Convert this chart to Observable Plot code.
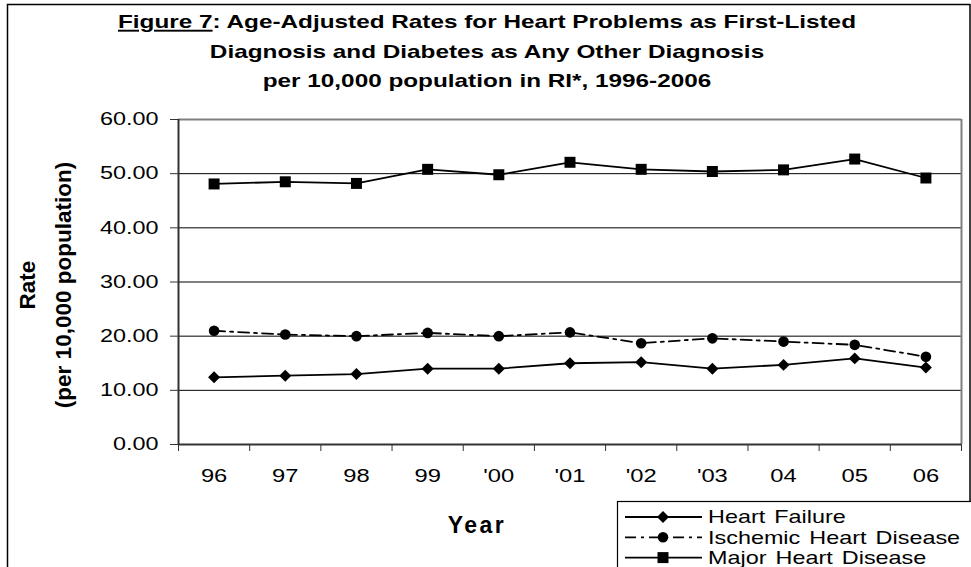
<!DOCTYPE html>
<html>
<head>
<meta charset="utf-8">
<script src="https://cdn.jsdelivr.net/npm/d3@7"></script>
<script src="https://cdn.jsdelivr.net/npm/@observablehq/plot@0.6"></script>
<style>
  html, body { margin: 0; padding: 0; background: #fff; }
  #chart { width: 971px; height: 567px; overflow: hidden; }
  svg text { font-family: "Liberation Sans", Arial, sans-serif; }
</style>
</head>
<body>
<div id="chart"></div>
<script>
const years = ["96", "97", "98", "99", "'00", "'01", "'02", "'03", "04", "05", "06"];
const heartFailure = [12.4, 12.7, 13.0, 14.0, 14.0, 15.0, 15.2, 14.0, 14.7, 15.9, 14.2];
const ischemicHeart = [21.0, 20.3, 20.0, 20.6, 20.0, 20.7, 18.7, 19.6, 19.0, 18.4, 16.2];
const majorHeart = [48.1, 48.5, 48.2, 50.8, 49.8, 52.1, 50.8, 50.4, 50.7, 52.7, 49.2];
const seriesNames = ["Heart Failure", "Ischemic Heart Disease", "Major Heart Disease"];
const yTicks = [0, 10, 20, 30, 40, 50, 60];
const titleLines = [
  ["Figure 7", ": Age-Adjusted Rates for Heart Problems as First-Listed"],
  ["", "Diagnosis and Diabetes as Any Other Diagnosis"],
  ["", "per 10,000 population in RI*, 1996-2006"]
];
const yTitle = ["Rate", "(per 10,000 population)"];
const xTitle = "Year";

const seriesValues = [heartFailure, ischemicHeart, majorHeart];
const symbols = ["diamond2", "circle", "square"];
const radii = [5.4, 5.3, 6.2];
const dashes = [null, "11,5,3,5", null];

const idx = years.map((_, i) => i);
const bounds = years.map((_, i) => i - 0.5).concat([years.length - 0.5]);
const tables = seriesValues.map((vals, s) => vals.map((v, i) => ({i, value: v, series: seriesNames[s]})));

const marks = [
  Plot.gridY(yTicks.slice(1, -1), {stroke: "#000", strokeOpacity: 1, strokeWidth: 1}),
  Plot.ruleY([yTicks[yTicks.length - 1]], {stroke: "#808080", strokeWidth: 2}),
  Plot.ruleX([bounds[bounds.length - 1]], {stroke: "#808080", strokeWidth: 2}),
  Plot.axisY({ticks: yTicks, tickFormat: d => d.toFixed(2), tickSize: 8, tickPadding: 12, fontSize: 18, label: null, stroke: "#333"}),
  Plot.axisX({ticks: bounds, tickSize: 7, tickFormat: () => "", label: null, stroke: "#333"}),
  Plot.axisX({ticks: idx, tickSize: 0, tickPadding: 24, tickFormat: i => years[i], fontSize: 19, label: null}),
  Plot.ruleX([bounds[0]], {stroke: "#333", strokeWidth: 2}),
  Plot.ruleY([yTicks[0]], {stroke: "#333", strokeWidth: 2})
];
tables.forEach((t, s) => {
  marks.push(Plot.line(t, {x: "i", y: "value", stroke: "#000", strokeWidth: 1.8, strokeDasharray: dashes[s] || undefined}));
});
tables.forEach((t, s) => {
  marks.push(Plot.dot(t, {x: "i", y: "value", symbol: () => symbols[s], r: radii[s], fill: "#000", stroke: "none"}));
});

const plot = Plot.plot({
  width: 971,
  height: 567,
  marginLeft: 178,
  marginRight: 10,
  marginTop: 119,
  marginBottom: 123,
  x: {domain: [bounds[0], bounds[bounds.length - 1]]},
  y: {domain: [yTicks[0], yTicks[yTicks.length - 1]]},
  symbol: {type: "identity"},
  style: {fontFamily: "Liberation Sans, Arial, sans-serif", color: "#000", background: "#fff", overflow: "visible"},
  marks
});
document.getElementById("chart").appendChild(plot);

const svg = d3.select(plot);
// stretch tick labels horizontally (append a scale to Plot's own translate)
function stretch(sel, k) {
  sel.each(function () {
    const t = this.getAttribute("transform") || "";
    this.setAttribute("transform", (t + ` scale(${k},1)`).trim());
  });
}
stretch(svg.selectAll('[aria-label="y-axis tick label"] text'), 1.3);
stretch(svg.selectAll('[aria-label="x-axis tick label"] text'), 1.25);

// outer border
svg.append("rect").attr("x", 7.5).attr("y", 4.5).attr("width", 962.5).attr("height", 575)
  .attr("fill", "none").attr("stroke", "#000").attr("stroke-width", 1.5);

// title
const tg = svg.append("g").attr("font-weight", "bold").attr("font-size", 19).attr("text-anchor", "middle");
titleLines.forEach((ln, k) => {
  const t = tg.append("text").attr("transform", `translate(487,${28 + k * 29.5}) scale(1.28,1)`);
  if (ln[0]) t.append("tspan").attr("text-decoration", "underline").text(ln[0]);
  t.append("tspan").text(ln[1]);
});

// y title
const yg = svg.append("g").attr("transform", "translate(0,285) rotate(-90)")
  .attr("font-weight", "bold").attr("font-size", 22.5).attr("text-anchor", "middle");
yTitle.forEach((s, k) => {
  yg.append("text").attr("x", 0).attr("y", 27 + k * 36).attr("dominant-baseline", "central").text(s);
});

// x title
svg.append("text").attr("x", 477).attr("y", 525).attr("dominant-baseline", "central")
  .attr("text-anchor", "middle").attr("font-weight", "bold").attr("font-size", 23)
  .attr("letter-spacing", 2.5).text(xTitle);

// legend
const lg = svg.append("g").attr("text-anchor", "start");
lg.append("rect").attr("x", 617.5).attr("y", 501.5).attr("width", 360).attr("height", 80)
  .attr("fill", "#fff").attr("stroke", "#000").attr("stroke-width", 1.2);
const symMap = {diamond2: d3.symbolDiamond2, circle: d3.symbolCircle, square: d3.symbolSquare};
seriesNames.forEach((name, s) => {
  const y = 517 + s * 20.3;
  lg.append("line").attr("x1", 625).attr("x2", 702).attr("y1", y).attr("y2", y)
    .attr("stroke", "#000").attr("stroke-width", 1.8).attr("stroke-dasharray", dashes[s]);
  lg.append("path").attr("transform", `translate(663,${y})`)
    .attr("d", d3.symbol(symMap[symbols[s]], Math.PI * radii[s] * radii[s])())
    .attr("fill", "#000");
  lg.append("text").attr("transform", `translate(708,${y}) scale(1.3,1)`)
    .attr("text-anchor", "start").attr("dominant-baseline", "central").attr("font-size", 18)
    .attr("word-spacing", 2)
    .text(name);
});
</script>
</body>
</html>
